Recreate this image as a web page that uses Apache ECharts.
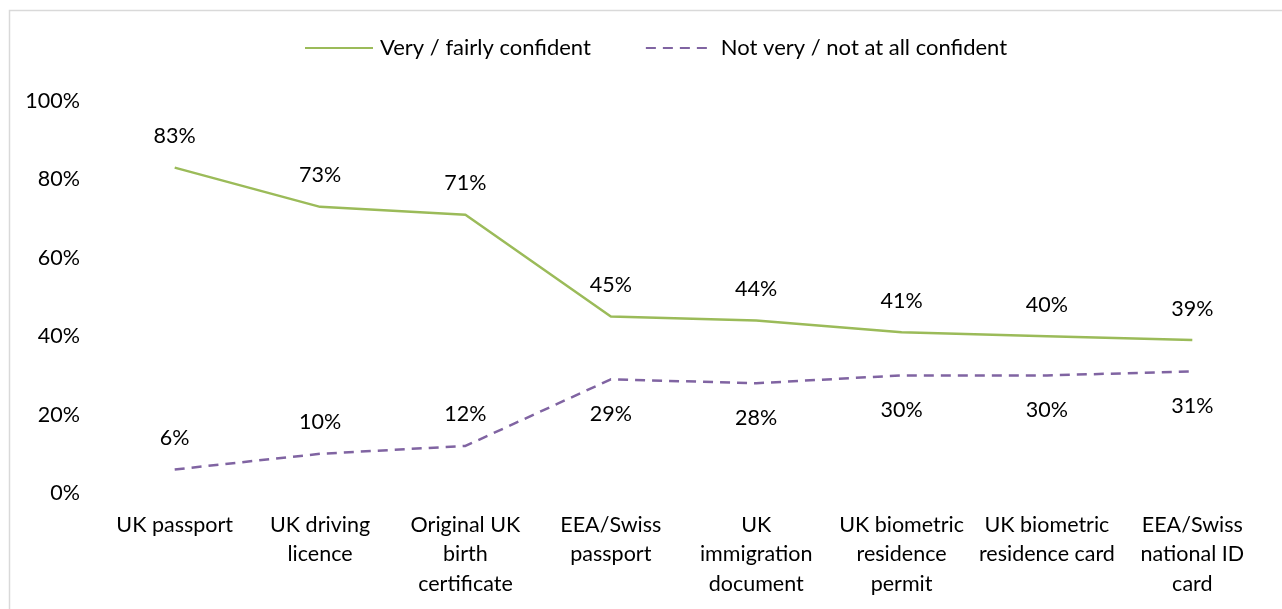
<!DOCTYPE html>
<html>
<head>
<meta charset="utf-8">
<script src="https://cdn.jsdelivr.net/npm/echarts@6/dist/echarts.min.js"></script>
<style>
  html, body { margin: 0; padding: 0; background: #fff; }
  #chart { width: 1282px; height: 609px; }
</style>
</head>
<body>
<div id="chart"></div>
<script>
// Document types
const categories = [
  'UK passport',
  'UK driving\nlicence',
  'Original UK\nbirth\ncertificate',
  'EEA/Swiss\npassport',
  'UK\nimmigration\ndocument',
  'UK biometric\nresidence\npermit',
  'UK biometric\nresidence card',
  'EEA/Swiss\nnational ID\ncard'
];
// Share of respondents (%)
const confident = [83, 73, 71, 45, 44, 41, 40, 39];
const notConfident = [6, 10, 12, 29, 28, 30, 30, 31];
const yTicks = [0, 20, 40, 60, 80, 100];

const FONT = 'Lato';
const SIZE = 21.5;
const chart = echarts.init(document.getElementById('chart'), null, { renderer: 'canvas' });

const valueLabel = {
  show: true,
  fontFamily: FONT,
  fontSize: SIZE,
  color: '#000',
  formatter: p => p.value + '%'
};

chart.setOption({
  animation: false,
  backgroundColor: '#fff',
  textStyle: { fontFamily: FONT, color: '#000' },
  graphic: [{
    type: 'rect',
    shape: { x: 9.5, y: 10.5, width: 1400, height: 800 },
    style: { fill: 'none', stroke: '#d9d9d9', lineWidth: 1.5 },
    silent: true
  }],
  legend: {
    left: 299,
    top: 32,
    itemWidth: 68,
    itemHeight: 14,
    itemGap: 54,
    textStyle: { fontFamily: FONT, fontSize: 22, color: '#000', padding: [0, 0, 0, 2] },
    data: ['Very / fairly confident', 'Not very / not at all confident']
  },
  grid: { left: 102, right: 17, top: 101, bottom: 116, containLabel: false },
  xAxis: {
    type: 'category',
    data: categories,
    boundaryGap: true,
    axisLine: { show: false },
    axisTick: { show: false },
    axisLabel: {
      interval: 0,
      margin: 17,
      fontFamily: FONT,
      fontSize: SIZE,
      lineHeight: 29.5,
      color: '#000',
      verticalAlign: 'top'
    }
  },
  yAxis: {
    type: 'value',
    min: yTicks[0],
    max: yTicks[yTicks.length - 1],
    interval: 20,
    axisLine: { show: false },
    axisTick: { show: false },
    splitLine: { show: false },
    axisLabel: {
      margin: 22,
      fontFamily: FONT,
      fontSize: SIZE,
      color: '#000',
      formatter: '{value}%'
    }
  },
  series: [
    {
      name: 'Very / fairly confident',
      type: 'line',
      data: confident,
      symbol: 'circle',
      symbolSize: 1,
      showSymbol: true,
      itemStyle: { color: 'rgba(0,0,0,0)' },
      lineStyle: { color: '#9bbb59', width: 2.5 },
      label: Object.assign({}, valueLabel, { position: 'top', distance: 20 })
    },
    {
      name: 'Not very / not at all confident',
      type: 'line',
      symbol: 'circle',
      symbolSize: 1,
      showSymbol: true,
      itemStyle: { color: 'rgba(0,0,0,0)' },
      lineStyle: { color: '#8064a2', width: 2.5, type: [10, 7] },
      // the first three labels sit above the line, the rest below it
      data: notConfident.map((v, i) => ({
        value: v,
        label: i < 3 ? { position: 'top', distance: 20 } : { position: 'bottom', distance: 23 }
      })),
      label: valueLabel
    }
  ]
});
</script>
</body>
</html>
